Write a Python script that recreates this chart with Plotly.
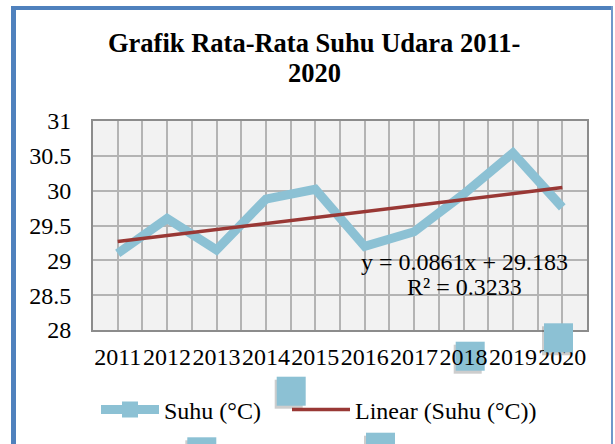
import plotly.graph_objects as go

# ---- data ----
years = [2011, 2012, 2013, 2014, 2015, 2016, 2017, 2018, 2019, 2020]
year_labels = [str(y) for y in years]
suhu = [29.10, 29.60, 29.15, 29.88, 30.02, 29.20, 29.41, 29.95, 30.54, 29.76]
trend_slope = 0.0861
trend_intercept = 29.183
y_ticks = [28, 28.5, 29, 29.5, 30, 30.5, 31]
y_tick_labels = ["28", "28.5", "29", "29.5", "30", "30.5", "31"]
title_lines = ["Grafik Rata-Rata Suhu Udara 2011-", "2020"]
eq_lines = ["y = 0.0861x + 29.183", "R² = 0.3233"]
series_name = "Suhu (°C)"
trend_name = "Linear (Suhu (°C))"

# trend values from the regression equation (x = 1..n)
trend = [trend_intercept + trend_slope * (i + 1) for i in range(len(years))]

# ---- layout geometry (pixels) ----
W, H = 615, 444
PL, PR, PT, PB = 93, 587, 121, 330
def px(x):
    return (x - PL) / (PR - PL)
def py(y):
    return (PB - y) / (PB - PT)

FONT = "Liberation Serif, Times New Roman, serif"
BLUE = "#8CC1D4"
RED = "#993835"
GRID = "#B4B4B4"

fig = go.Figure()
fig.add_trace(go.Scatter(x=years, y=suhu, mode="lines", line=dict(color=BLUE, width=9),
                         showlegend=False, hoverinfo="skip"))
fig.add_trace(go.Scatter(x=[None], y=[None], mode="lines+markers", name=series_name,
                         line=dict(color=BLUE, width=9), legend="legend",
                         marker=dict(symbol="square", size=16, color=BLUE)))
fig.add_trace(go.Scatter(x=years, y=trend, mode="lines", name=trend_name, legend="legend2",
                         line=dict(color=RED, width=3.5)))

shapes = []
# outer frame (chart border)
shapes.append(dict(type="rect", xref="paper", yref="paper", x0=px(11), x1=px(16), y0=py(6), y1=py(450),
                   fillcolor="#4F81BD", line=dict(width=0), layer="above"))
shapes.append(dict(type="rect", xref="paper", yref="paper", x0=px(11), x1=px(613), y0=py(6), y1=py(10),
                   fillcolor="#4F81BD", line=dict(width=0), layer="above"))
shapes.append(dict(type="rect", xref="paper", yref="paper", x0=px(611), x1=px(613), y0=py(6), y1=py(450),
                   fillcolor="#6F98CA", line=dict(width=0), layer="above"))

# stray marker squares seen in the picture (decoration)
squares = [(455.7, 341.7, "below"), (544, 323.3, "above"), (276.7, 376.7, "below"),
           (366, 432.7, "below"), (187.3, 437.3, "below")]
for (sx, sy, lay) in squares:
    shapes.append(dict(type="rect", xref="paper", yref="paper", x0=px(sx - 2), x1=px(sx + 26),
                       y0=py(sy + 3 + 29), y1=py(sy + 3), fillcolor="rgba(90,90,90,0.3)",
                       line=dict(width=0), layer=lay))
    shapes.append(dict(type="rect", xref="paper", yref="paper", x0=px(sx), x1=px(sx + 29),
                       y0=py(sy + 29), y1=py(sy), fillcolor=BLUE,
                       line=dict(width=0), layer=lay))

annotations = []
annotations.append(dict(text="<b>%s</b>" % title_lines[0], xref="paper", yref="paper", x=px(314), y=py(43),
                        xanchor="center", yanchor="middle", showarrow=False,
                        font=dict(family=FONT, size=26.5, color="black")))
annotations.append(dict(text="<b>%s</b>" % title_lines[1], xref="paper", yref="paper", x=px(314), y=py(73),
                        xanchor="center", yanchor="middle", showarrow=False,
                        font=dict(family=FONT, size=26.5, color="black")))
annotations.append(dict(text=eq_lines[0], xref="paper", yref="paper", x=px(464), y=py(262),
                        xanchor="center", yanchor="middle", showarrow=False,
                        font=dict(family=FONT, size=24, color="black")))
annotations.append(dict(text=eq_lines[1], xref="paper", yref="paper", x=px(464), y=py(287),
                        xanchor="center", yanchor="middle", showarrow=False,
                        font=dict(family=FONT, size=24, color="black")))

legend_common = dict(orientation="h", yanchor="middle", xanchor="left",
                     font=dict(family=FONT, size=24, color="black"), bgcolor="rgba(0,0,0,0)",
                     itemwidth=58, tracegroupgap=0)

fig.update_layout(
    width=W, height=H,
    margin=dict(l=PL, r=W - PR, t=PT, b=H - PB, pad=0, autoexpand=False),
    paper_bgcolor="white", plot_bgcolor="#F2F2F2",
    font=dict(family=FONT, size=24, color="black"),
    shapes=shapes, annotations=annotations,
    showlegend=True,
    legend=dict(x=px(96), y=py(410), **legend_common),
    legend2=dict(x=px(287), y=py(410), **legend_common),
)
fig.update_xaxes(range=[2010.5, 2020.5], tickmode="array", tickvals=years, ticktext=year_labels,
                 tickangle=0, automargin=False,
                 showgrid=True, gridcolor=GRID, gridwidth=1.5,
                 minor=dict(tickmode="linear", tick0=2010.5, dtick=0.5, showgrid=True,
                            gridcolor=GRID, gridwidth=1.5),
                 showline=True, linecolor="#8C8C8C", linewidth=2, mirror=True,
                 ticks="", ticklabelstandoff=4, zeroline=False,
                 tickfont=dict(family=FONT, size=24, color="black"))
fig.update_yaxes(range=[28, 31], tickmode="array", tickvals=y_ticks, ticktext=y_tick_labels,
                 automargin=False,
                 showgrid=True, gridcolor=GRID, gridwidth=1.5,
                 showline=True, linecolor="#8C8C8C", linewidth=2, mirror=True,
                 ticks="", ticklabelstandoff=15, zeroline=False,
                 tickfont=dict(family=FONT, size=24, color="black"))

fig.write_html("out.html", config={"displayModeBar": False},
               post_script="document.body.style.margin='0';document.body.style.padding='0';")
